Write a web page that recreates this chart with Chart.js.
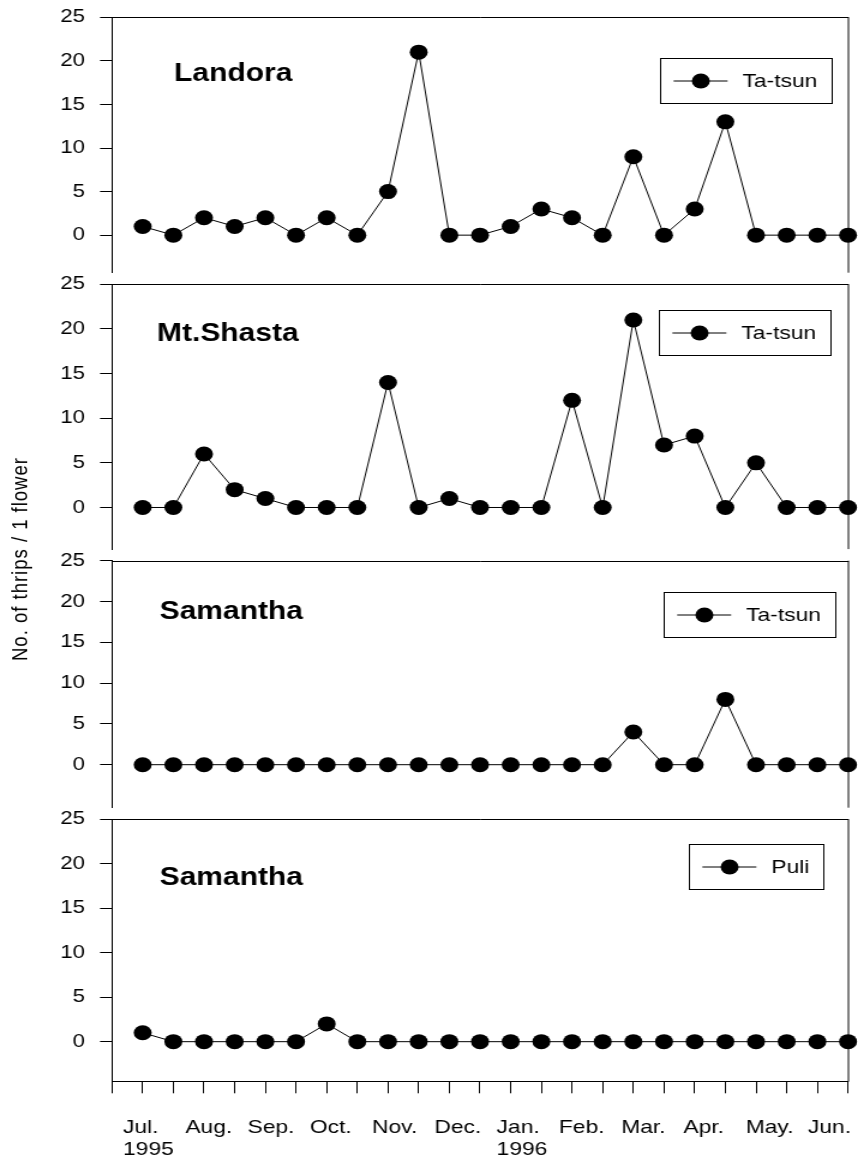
<!DOCTYPE html>
<html>
<head>
<meta charset="utf-8">
<title>Thrips per flower, Jul. 1995 – Jun. 1996</title>
<script src="https://cdn.jsdelivr.net/npm/chart.js@4.4.1/dist/chart.umd.min.js"></script>
<style>
  html, body { margin: 0; padding: 0; background: #fff; }
  body { width: 858px; height: 1162px; overflow: hidden; position: relative; }
  /* the figure is laid out at 715px and widened to 858px */
  #stage { position: absolute; left: 0; top: 0; width: 715px; height: 1162px;
           transform: scaleX(1.2); transform-origin: 0 0; }
  #stage canvas { position: absolute; left: 0; top: 0; }
  #ytitle { position: absolute; left: 16.5px; top: 559px; white-space: nowrap;
            transform: translate(-50%, -50%) rotate(-90deg);
            font: 18.5px 'Liberation Sans', Arial, sans-serif; letter-spacing: 1px; color: #000; }
</style>
</head>
<body>
<div id="stage">
  <canvas id="p0" width="715" height="1162"></canvas>
  <canvas id="p1" width="715" height="1162"></canvas>
  <canvas id="p2" width="715" height="1162"></canvas>
  <canvas id="p3" width="715" height="1162"></canvas>
  <div id="ytitle">No. of thrips / 1 flower</div>
</div>
<script>
// ---- data -------------------------------------------------------------
// two sampling dates per month, Jul. 1995 to Jun. 1996
const samplingDates = [
  'Jul. 1995 a', 'Jul. 1995 b', 'Aug. a', 'Aug. b', 'Sep. a', 'Sep. b',
  'Oct. a', 'Oct. b', 'Nov. a', 'Nov. b', 'Dec. a', 'Dec. b',
  'Jan. 1996 a', 'Jan. 1996 b', 'Feb. a', 'Feb. b', 'Mar. a', 'Mar. b',
  'Apr. a', 'Apr. b', 'May. a', 'May. b', 'Jun. a', 'Jun. b'
];
const monthLabels = [
  ['Jul.', '1995'], 'Aug.', 'Sep.', 'Oct.', 'Nov.', 'Dec.',
  ['Jan.', '1996'], 'Feb.', 'Mar.', 'Apr.', 'May.', 'Jun.'
];
const yTickValues = [0, 5, 10, 15, 20, 25];

const landoraTatsun  = [1, 0, 2, 1, 2, 0, 2, 0, 5, 21, 0, 0, 1, 3, 2, 0, 9, 0, 3, 13, 0, 0, 0, 0];
const mtShastaTatsun = [0, 0, 6, 2, 1, 0, 0, 0, 14, 0, 1, 0, 0, 0, 12, 0, 21, 7, 8, 0, 5, 0, 0, 0];
const samanthaTatsun = [0, 0, 0, 0, 0, 0, 0, 0, 0, 0, 0, 0, 0, 0, 0, 0, 4, 0, 0, 8, 0, 0, 0, 0];
const samanthaPuli   = [1, 0, 0, 0, 0, 0, 2, 0, 0, 0, 0, 0, 0, 0, 0, 0, 0, 0, 0, 0, 0, 0, 0, 0];

const cultivars = ['Landora', 'Mt.Shasta', 'Samantha', 'Samantha'];
const species   = ['Ta-tsun', 'Ta-tsun', 'Ta-tsun', 'Puli'];
const seriesValues = [landoraTatsun, mtShastaTatsun, samanthaTatsun, samanthaPuli];

// ---- layout -----------------------------------------------------------
const FONT = "'Liberation Sans', Arial, sans-serif";
const PAGE_H = 1162;
const PLOT_LEFT = 93.33, PLOT_RIGHT = 706.67, STAGE_W = 715;
const panels = [
  { top: 17.3,  bottom: 284.3,  yMin: -4.31, title: { x: 145,   y: 56.7 }, legend: { x: 550,   y: 40.7 } },
  { top: 284.3, bottom: 560.7,  yMin: -4.66, title: { x: 130.8, y: 49.7 }, legend: { x: 549.4, y: 25.7 } },
  { top: 560.7, bottom: 819.3,  yMin: -5.27, title: { x: 133,   y: 51.3 }, legend: { x: 552.5, y: 31.3 } },
  { top: 819.3, bottom: 1081.7, yMin: -4.50, title: { x: 133,   y: 58.7 }, legend: { x: 574.2, y: 24.7 } }
];
const X_TICK_LEN = 11.6;

// frame, panel name and boxed key for each panel
const panelDecor = {
  id: 'panelDecor',
  beforeDatasetsDraw(chart, args, opts) {
    const { ctx, chartArea: a } = chart;
    ctx.save();
    ctx.strokeStyle = '#000';
    ctx.lineWidth = 1;
    ctx.beginPath();
    const yTop = Math.round(a.top) + 0.5;
    ctx.moveTo(a.left, yTop);
    ctx.lineTo(a.right + 0.5, yTop);
    const xr = Math.round(a.right);
    ctx.moveTo(xr, a.top);
    ctx.lineTo(xr, a.bottom);
    ctx.stroke();
    ctx.restore();
  },
  afterDatasetsDraw(chart, args, opts) {
    const { ctx, chartArea: a } = chart;
    ctx.save();
    // panel name
    ctx.fillStyle = '#000';
    ctx.font = 'bold 25px ' + FONT;
    ctx.textAlign = 'left';
    ctx.textBaseline = 'middle';
    ctx.fillText(opts.name, opts.title.x, a.top + opts.title.y);
    // key
    const label = chart.data.datasets[0].label;
    ctx.font = '19px ' + FONT;
    const tw = ctx.measureText(label).width;
    const bx = Math.round(opts.legend.x) + 0.5;
    const by = Math.round(a.top + opts.legend.y) + 0.5;
    const bw = Math.round(68.3 + tw + 12.5);
    const bh = 45;
    ctx.strokeStyle = '#000';
    ctx.lineWidth = 1;
    ctx.strokeRect(bx, by, bw, bh);
    const cy = by + bh / 2;
    ctx.beginPath();
    ctx.moveTo(bx + 10.8, cy);
    ctx.lineTo(bx + 55.8, cy);
    ctx.stroke();
    ctx.beginPath();
    ctx.arc(bx + 33.5, cy, 7.5, 0, Math.PI * 2);
    ctx.fill();
    ctx.fillText(label, bx + 68.3, cy + 0.5);
    ctx.restore();
  }
};

function zeroPad(scale) {
  scale.paddingLeft = scale.paddingRight = scale.paddingTop = scale.paddingBottom = 0;
}

panels.forEach((p, i) => {
  const last = i === panels.length - 1;
  const scales = {
    x: {
      type: 'linear',
      min: -1,
      max: samplingDates.length - 1,
      display: last,
      weight: 0,
      afterBuildTicks: s => {
        s.ticks = [-1, ...samplingDates.map((_, k) => k)].map(v => ({ value: v }));
      },
      afterFit: s => { zeroPad(s); s.height = X_TICK_LEN; },
      ticks: { display: false },
      grid: { drawOnChartArea: false, drawTicks: true, tickLength: X_TICK_LEN, color: '#000', lineWidth: 1 },
      border: { display: true, color: '#000', width: 1 }
    },
    y: {
      type: 'linear',
      position: 'left',
      min: p.yMin,
      max: 25,
      afterBuildTicks: s => { s.ticks = yTickValues.map(v => ({ value: v })); },
      afterFit: s => { zeroPad(s); s.width = PLOT_LEFT; },
      ticks: { color: '#000', font: { family: FONT, size: 18.5 }, padding: 12.5 },
      grid: { drawOnChartArea: false, drawTicks: true, tickLength: 10, color: '#000', lineWidth: 1 },
      border: { display: true, color: '#000', width: 1 }
    }
  };
  if (last) {
    scales.months = {
      type: 'linear',
      position: 'bottom',
      axis: 'x',
      weight: 1,
      min: -0.1767,
      max: 11.643,
      afterBuildTicks: s => { s.ticks = monthLabels.map((_, k) => ({ value: k })); },
      afterFit: s => { zeroPad(s); s.height = PAGE_H - p.bottom - X_TICK_LEN; },
      ticks: {
        callback: (v, k) => monthLabels[k],
        align: 'start',
        padding: 23.3,
        autoSkip: false,
        maxRotation: 0,
        color: '#000',
        font: { family: FONT, size: 19, lineHeight: 1.15 }
      },
      grid: { display: false, drawTicks: false, tickLength: 0 },
      border: { display: false }
    };
  }

  new Chart(document.getElementById('p' + i), {
    type: 'line',
    data: {
      datasets: [{
        label: species[i],
        data: seriesValues[i].map((v, k) => ({ x: k, y: v })),
        borderColor: '#000',
        borderWidth: 1,
        backgroundColor: '#000',
        pointBackgroundColor: '#000',
        pointBorderWidth: 0,
        pointRadius: 7.5,
        pointStyle: 'circle',
        tension: 0,
        clip: false
      }]
    },
    options: {
      responsive: false,
      animation: false,
      events: [],
      layout: {
        padding: {
          top: p.top,
          bottom: last ? 0 : PAGE_H - p.bottom,
          left: 0,
          right: STAGE_W - PLOT_RIGHT
        }
      },
      scales,
      plugins: {
        legend: { display: false },
        tooltip: { enabled: false },
        panelDecor: { name: cultivars[i], title: p.title, legend: p.legend }
      }
    },
    plugins: [panelDecor]
  });
});
</script>
</body>
</html>
